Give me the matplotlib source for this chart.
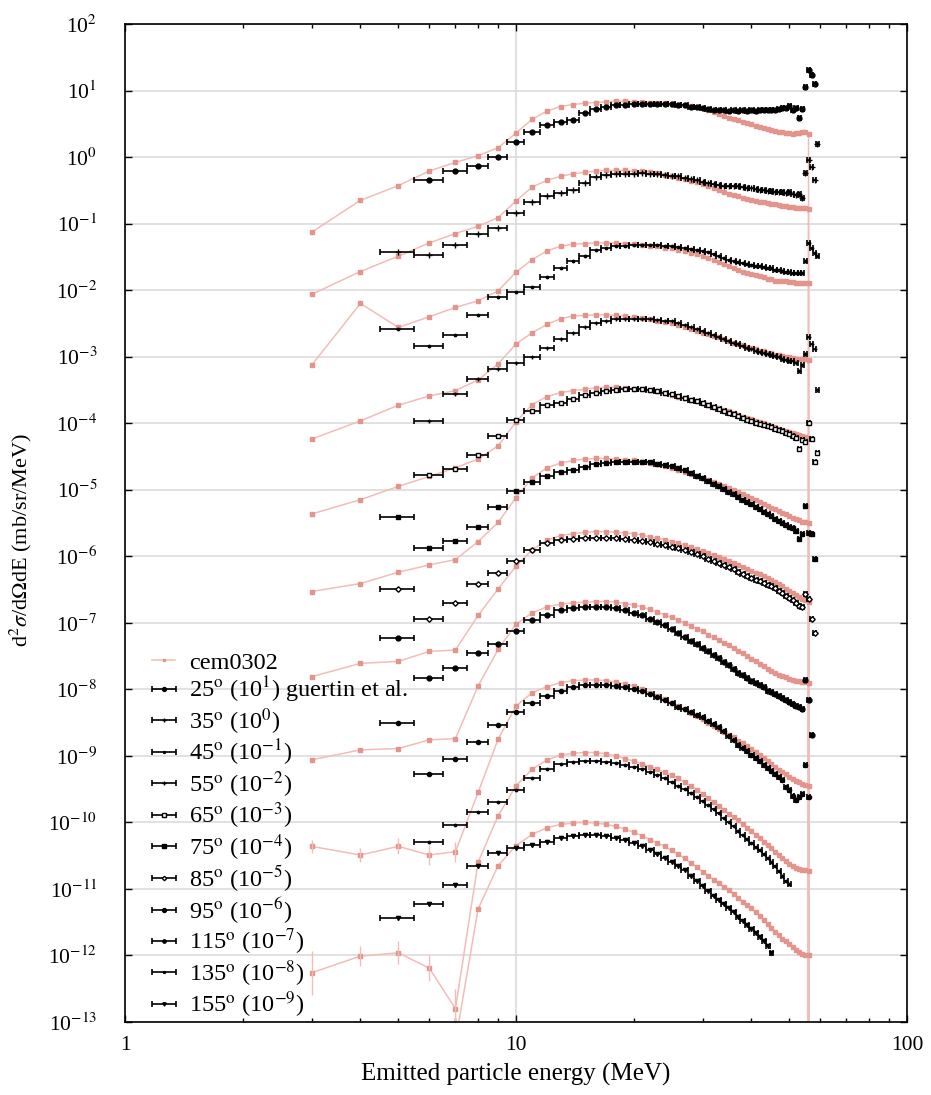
import numpy as np
import matplotlib
matplotlib.use('Agg')
import matplotlib.pyplot as plt
from matplotlib.ticker import LogLocator, NullLocator, NullFormatter

plt.rcParams['font.family'] = 'serif'
plt.rcParams['font.serif'] = ['Liberation Serif', 'DejaVu Serif']
plt.rcParams['mathtext.fontset'] = 'stix'

nan = np.nan

# energy bins (MeV)
e_cem = np.arange(3, 57)      # cem0302 bins 3..56 MeV
e_cem_end = 57                # calculated spectra are zero above this
e_exp = np.arange(5, 60)      # Guertin et al. bins 5..59 MeV
exp_half_bin = 0.5

angles = [25, 35, 45, 55, 65, 75, 85, 95, 115, 135, 155]
scale_pow = [1, 0, -1, -2, -3, -4, -5, -6, -7, -8, -9]

# log10 of the plotted (scaled) d2sigma/dOmega dE
cem_25 = [-1.13, -0.65, -0.43, -0.21, -0.08, 0.02, 0.14, 0.36, 0.57, 0.69,
          0.76, 0.79, 0.81, 0.82, 0.83, 0.84, 0.84, 0.83, 0.83, 0.82,
          0.82, 0.81, 0.80, 0.79, 0.78, 0.77, 0.76, 0.74, 0.71, 0.68,
          0.65, 0.62, 0.59, 0.57, 0.55, 0.53, 0.51, 0.49, 0.47, 0.45,
          0.43, 0.42, 0.40, 0.39, 0.38, 0.37, 0.36, 0.36, 0.35, 0.36,
          0.36, 0.37, 0.37, 0.35]
exp_25 = [nan, -0.34, -0.21, -0.14, 0.00, 0.225, 0.375, 0.475, 0.525, 0.55,
          0.66, 0.72, 0.76, 0.78, 0.79, 0.80, 0.80, 0.80, 0.80, 0.80,
          0.80, 0.79, 0.78, 0.76, 0.75, 0.73, 0.72, 0.71, 0.70, 0.70,
          0.69, 0.70, 0.69, 0.70, 0.69, 0.70, 0.69, 0.70, 0.70, 0.71,
          0.70, 0.71, 0.72, 0.73, 0.74, 0.77, 0.70, 0.74, 0.59, 0.72,
          1.05, 1.31, 1.23, 1.10, nan]

cem_35 = [-2.065, -1.72, -1.49, -1.29, -1.15, -1.04, -0.91, -0.66, -0.45, -0.35,
          -0.29, -0.25, -0.23, -0.21, -0.20, -0.20, -0.20, -0.21, -0.21, -0.22,
          -0.24, -0.27, -0.29, -0.31, -0.33, -0.36, -0.38, -0.41, -0.43, -0.46,
          -0.49, -0.52, -0.55, -0.57, -0.59, -0.61, -0.63, -0.64, -0.66, -0.67,
          -0.68, -0.69, -0.70, -0.71, -0.72, -0.73, -0.74, -0.75, -0.75, -0.76,
          -0.76, -0.76, -0.77, -0.78]
exp_35 = [-1.425, -1.475, -1.315, -1.15, -1.065, -0.84, -0.68, -0.58, -0.54, -0.49,
          -0.39, -0.30, -0.27, -0.26, -0.25, -0.25, -0.24, -0.25, -0.26, -0.27,
          -0.28, -0.29, -0.31, -0.33, -0.35, -0.37, -0.39, -0.41, -0.42, -0.43,
          -0.44, -0.44, -0.44, -0.45, -0.46, -0.47, -0.48, -0.49, -0.50, -0.51,
          -0.51, -0.52, -0.52, -0.53, -0.54, -0.53, -0.55, -0.57, -0.56, -0.62,
          -0.24, -0.04, -0.15, -0.34, 0.19]

cem_45 = [-3.13, -2.20, -2.56, -2.40, -2.26, -2.16, -2.01, -1.73, -1.54, -1.41,
          -1.34, -1.31, -1.30, -1.29, -1.29, -1.29, -1.30, -1.31, -1.32, -1.33,
          -1.34, -1.36, -1.37, -1.39, -1.41, -1.44, -1.46, -1.49, -1.52, -1.55,
          -1.58, -1.61, -1.64, -1.67, -1.70, -1.72, -1.74, -1.76, -1.78, -1.79,
          -1.81, -1.83, -1.84, -1.86, -1.86, -1.87, -1.87, -1.88, -1.88, -1.89,
          -1.89, -1.89, -1.90, -1.90]
exp_45 = [-2.58, -2.84, -2.68, -2.38, -2.10, -2.03, -1.96, -1.80, -1.66, -1.56,
          -1.49, -1.40, -1.36, -1.34, -1.33, -1.32, -1.32, -1.32, -1.32, -1.33,
          -1.34, -1.35, -1.37, -1.38, -1.40, -1.41, -1.43, -1.46, -1.49, -1.52,
          -1.55, -1.56, -1.58, -1.59, -1.61, -1.62, -1.63, -1.64, -1.65, -1.66,
          -1.67, -1.69, -1.70, -1.71, -1.72, -1.73, -1.74, -1.74, -1.75, -1.75,
          -1.56, -1.29, -1.36, -1.44, -1.49]

cem_55 = [-4.24, -3.965, -3.73, -3.59, -3.51, -3.35, -3.11, -2.81, -2.64, -2.515,
          -2.43, -2.39, -2.38, -2.37, -2.37, -2.38, -2.39, -2.41, -2.42, -2.44,
          -2.46, -2.48, -2.50, -2.53, -2.55, -2.58, -2.61, -2.64, -2.66, -2.69,
          -2.71, -2.74, -2.76, -2.79, -2.81, -2.83, -2.85, -2.87, -2.89, -2.91,
          -2.92, -2.94, -2.95, -2.97, -2.98, -2.99, -3.00, -3.01, -3.02, -3.03,
          -3.03, -3.04, -3.04, -3.05]
exp_55 = [nan, -3.965, -3.565, -3.34, -3.18, -3.10, -3.01, -2.865, -2.73, -2.64,
          -2.56, -2.49, -2.46, -2.44, -2.43, -2.43, -2.43, -2.44, -2.45, -2.46,
          -2.47, -2.49, -2.52, -2.55, -2.58, -2.61, -2.64, -2.67, -2.70, -2.73,
          -2.76, -2.79, -2.81, -2.84, -2.87, -2.89, -2.91, -2.93, -2.95, -2.96,
          -2.98, -2.99, -3.01, -3.03, -3.05, -3.06, -3.07, -3.10, -3.21, -3.12,
          -2.96, -2.71, -2.81, -2.89, -3.50]

cem_65 = [-5.365, -5.15, -4.95, -4.80, -4.67, -4.54, -4.34, -3.98, -3.72, -3.60,
          -3.54, -3.51, -3.49, -3.47, -3.46, -3.46, -3.47, -3.48, -3.49, -3.50,
          -3.52, -3.55, -3.57, -3.60, -3.62, -3.65, -3.67, -3.70, -3.72, -3.75,
          -3.77, -3.80, -3.82, -3.85, -3.87, -3.90, -3.92, -3.94, -3.96, -3.98,
          -4.00, -4.02, -4.04, -4.06, -4.08, -4.10, -4.11, -4.13, -4.14, -4.16,
          -4.17, -4.19, -4.20, -4.22]
exp_65 = [nan, -4.78, -4.69, -4.48, -4.19, -3.95, -3.815, -3.73, -3.70, -3.64,
          -3.58, -3.54, -3.51, -3.50, -3.49, -3.49, -3.49, -3.50, -3.52, -3.54,
          -3.565, -3.59, -3.62, -3.65, -3.67, -3.69, -3.72, -3.75, -3.78, -3.81,
          -3.84, -3.865, -3.89, -3.92, -3.95, -3.97, -3.99, -4.01, -4.03, -4.04,
          -4.06, -4.08, -4.10, -4.12, -4.14, -4.16, -4.19, -4.22, -4.39, -4.25,
          -4.28, -3.99, -4.24, -4.59, -4.45]

cem_75 = [-6.53, -6.41, -6.24, -6.13, -6.05, -5.78, -5.49, -5.12, -4.82, -4.67,
          -4.60, -4.56, -4.54, -4.53, -4.53, -4.54, -4.55, -4.56, -4.58, -4.60,
          -4.62, -4.65, -4.67, -4.70, -4.73, -4.76, -4.79, -4.82, -4.85, -4.88,
          -4.91, -4.94, -4.97, -5.00, -5.03, -5.06, -5.09, -5.12, -5.15, -5.18,
          -5.21, -5.24, -5.27, -5.29, -5.32, -5.35, -5.37, -5.39, -5.42, -5.44,
          -5.46, -5.48, -5.49, -5.50]
exp_75 = [-5.415, -5.88, -5.765, -5.565, -5.255, -5.015, -4.88, -4.80, -4.74, -4.70,
          -4.665, -4.62, -4.60, -4.58, -4.58, -4.58, -4.58, -4.59, -4.61, -4.63,
          -4.65, -4.68, -4.71, -4.75, -4.79, -4.83, -4.87, -4.91, -4.95, -4.99,
          -5.03, -5.07, -5.11, -5.15, -5.19, -5.22, -5.26, -5.29, -5.33, -5.37,
          -5.40, -5.44, -5.47, -5.50, -5.53, -5.56, -5.58, -5.62, -5.74, -5.66,
          -5.24, -5.65, -5.67, -6.04, nan]

cem_85 = [-7.81, -7.61, -7.58, -7.43, -7.41, -6.89, -6.49, -6.15, -5.90, -5.76,
          -5.69, -5.66, -5.64, -5.63, -5.63, -5.64, -5.65, -5.66, -5.68, -5.71,
          -5.73, -5.75, -5.78, -5.80, -5.83, -5.86, -5.89, -5.92, -5.95, -5.98,
          -6.01, -6.04, -6.07, -6.10, -6.13, -6.16, -6.19, -6.22, -6.25, -6.27,
          -6.30, -6.33, -6.36, -6.39, -6.42, -6.45, -6.49, -6.52, -6.55, -6.58,
          -6.61, -6.64, -6.66, -6.68]
exp_85 = [-6.486, -6.946, -6.696, -6.421, -6.246, -6.076, -5.91, -5.80, -5.76, -5.74,
          -5.73, -5.72, -5.72, -5.73, -5.74, -5.75, -5.77, -5.79, -5.81, -5.83,
          -5.86, -5.88, -5.91, -5.94, -5.97, -6.00, -6.04, -6.07, -6.10, -6.13,
          -6.16, -6.19, -6.23, -6.26, -6.29, -6.32, -6.35, -6.37, -6.40, -6.43,
          -6.45, -6.48, -6.52, -6.55, -6.60, -6.63, -6.66, -6.70, -6.74, -6.76,
          -6.56, -6.64, -6.94, -7.16, nan]

cem_95 = [-9.06, -8.91, -8.89, -8.76, -8.74, -7.95, -7.40, -7.02, -6.85, -6.76,
          -6.72, -6.70, -6.69, -6.68, -6.68, -6.69, -6.71, -6.73, -6.76, -6.80,
          -6.84, -6.88, -6.92, -6.96, -7.00, -7.05, -7.09, -7.13, -7.18, -7.22,
          -7.26, -7.30, -7.34, -7.38, -7.42, -7.46, -7.50, -7.54, -7.58, -7.62,
          -7.65, -7.69, -7.72, -7.75, -7.78, -7.80, -7.82, -7.84, -7.86, -7.87,
          -7.88, -7.89, -7.89, -7.90]
exp_95 = [-7.226, -7.836, -7.686, -7.461, -7.326, -7.126, -6.96, -6.88, -6.81, -6.78,
          -6.77, -6.76, -6.76, -6.78, -6.81, -6.85, -6.89, -6.94, -6.99, -7.04,
          -7.10, -7.15, -7.21, -7.27, -7.32, -7.38, -7.43, -7.48, -7.53, -7.59,
          -7.64, -7.70, -7.75, -7.79, -7.83, -7.87, -7.90, -7.94, -7.97, -8.02,
          -8.04, -8.07, -8.10, -8.13, -8.16, -8.19, -8.22, -8.25, -8.27, -8.30,
          -7.86, -8.16, -8.69, nan, nan]

cem_115 = [-10.36, -10.49, -10.36, -10.49, -10.44, -9.55, -8.75, -8.25, -8.05, -7.96,
           -7.90, -7.87, -7.86, -7.86, -7.87, -7.89, -7.92, -7.95, -8.00, -8.05,
           -8.10, -8.15, -8.20, -8.25, -8.30, -8.35, -8.40, -8.45, -8.50, -8.55,
           -8.59, -8.64, -8.68, -8.72, -8.77, -8.81, -8.85, -8.89, -8.94, -8.98,
           -9.03, -9.07, -9.12, -9.16, -9.21, -9.25, -9.28, -9.32, -9.35, -9.38,
           -9.40, -9.43, -9.44, -9.45]
exp_115 = [-8.50, -9.276, -9.046, -8.796, -8.536, -8.336, -8.20, -8.10, -8.02, -7.96,
           -7.94, -7.93, -7.93, -7.95, -7.97, -8.00, -8.03, -8.07, -8.11, -8.16,
           -8.21, -8.26, -8.30, -8.34, -8.38, -8.42, -8.47, -8.52, -8.57, -8.63,
           -8.70, -8.76, -8.83, -8.88, -8.93, -8.98, -9.03, -9.08, -9.13, -9.18,
           -9.22, -9.27, -9.32, -9.37, -9.47, -9.52, -9.60, -9.66, -9.62, -9.58,
           -9.14, -9.62, nan, nan, nan]

cem_135 = [-12.26, -12.01, -11.96, -12.19, -12.80, -10.60, -9.90, -9.45, -9.20, -9.06,
           -8.99, -8.96, -8.95, -8.95, -8.97, -9.00, -9.04, -9.08, -9.12, -9.16,
           -9.20, -9.25, -9.29, -9.34, -9.40, -9.45, -9.51, -9.57, -9.63, -9.70,
           -9.76, -9.82, -9.87, -9.92, -9.97, -10.03, -10.08, -10.13, -10.19, -10.24,
           -10.29, -10.34, -10.39, -10.44, -10.49, -10.54, -10.58, -10.63, -10.66, -10.69,
           -10.70, -10.71, -10.72, -10.73]
exp_135 = [nan, -10.296, -10.036, -9.846, -9.686, -9.51, -9.34, -9.19, -9.12, -9.09,
           -9.08, -9.08, -9.09, -9.11, -9.14, -9.17, -9.20, -9.24, -9.29, -9.34,
           -9.39, -9.45, -9.50, -9.56, -9.62, -9.68, -9.74, -9.80, -9.86, -9.93,
           -9.99, -10.06, -10.13, -10.19, -10.25, -10.31, -10.37, -10.42, -10.48, -10.53,
           -10.59, -10.66, -10.73, -10.81, -10.88, -10.93, nan, nan, nan, nan,
           nan, nan, nan, nan, nan]

cem_155 = [nan, nan, nan, nan, -13.3, -11.30, -10.65, -10.35, -10.18, -10.08,
           -10.03, -10.01, -10.00, -10.01, -10.03, -10.06, -10.10, -10.15, -10.20, -10.26,
           -10.31, -10.36, -10.42, -10.48, -10.54, -10.61, -10.67, -10.74, -10.80, -10.86,
           -10.91, -10.97, -11.02, -11.08, -11.13, -11.19, -11.24, -11.29, -11.35, -11.40,
           -11.46, -11.52, -11.58, -11.64, -11.69, -11.75, -11.79, -11.83, -11.88, -11.92,
           -11.95, -11.98, -11.99, -12.00]
exp_155 = [-11.436, -11.226, -10.936, -10.661, -10.461, -10.386, -10.336, -10.30, -10.24, -10.20,
           -10.19, -10.19, -10.20, -10.23, -10.27, -10.31, -10.36, -10.41, -10.47, -10.54,
           -10.60, -10.66, -10.72, -10.80, -10.88, -10.96, -11.03, -11.10, -11.16, -11.23,
           -11.29, -11.35, -11.42, -11.48, -11.54, -11.60, -11.66, -11.72, -11.78, -11.86,
           -11.96, nan, nan, nan, nan, nan, nan, nan, nan, nan,
           nan, nan, nan, nan, nan]

# statistical uncertainty (in decades) of the calculation at 3..7 MeV
cem_115_err = [0.10, 0.10, 0.12, 0.15, 0.15]
cem_135_err = [0.33, 0.15, 0.17, 0.20, 0.30]

cem_all = [cem_25, cem_35, cem_45, cem_55, cem_65, cem_75, cem_85, cem_95,
           cem_115, cem_135, cem_155]
exp_all = [exp_25, exp_35, exp_45, exp_55, exp_65, exp_75, exp_85, exp_95,
           exp_115, exp_135, exp_155]

exp_markers = ['o', '+', '.', '+', 's', 's', 'D', 'o', 'o', '.', 'v']
exp_faces = ['k', 'k', 'k', 'k', 'white', 'k', 'white', 'k', 'k', 'k', 'k']
exp_sizes = [3.5, 4, 3.5, 3.5, 3, 3.5, 2.8, 3.5, 3, 3.5, 3]

y_decades = np.arange(-13, 3)

cem_line = '#f1bdb8'
cem_mark = '#e2948d'

fig = plt.figure(figsize=(9.31, 10.95), dpi=100)
ax = fig.add_axes([125 / 931, 1 - 1022 / 1095, 782 / 931, 998 / 1095])
ax.set_xscale('log')
ax.set_yscale('log', nonpositive='clip')

for i, (cem, exp) in enumerate(zip(cem_all, exp_all)):
    y_cem = np.append(10.0 ** np.array(cem), 0.0)
    x_cem = np.append(e_cem, e_cem_end)
    ax.plot(x_cem, y_cem, color=cem_line, lw=1.1, marker='s', ms=2.3,
            mfc=cem_mark, mec=cem_mark, zorder=2,
            label='cem0302' if i == 0 else '_nolegend_')

    lbl = '%d$^{\\rm o}$ (10$^{%d}$)' % (angles[i], scale_pow[i])
    if i == 0:
        lbl += ' guertin et al.'
    ax.errorbar(e_exp, 10.0 ** np.array(exp), xerr=exp_half_bin,
                fmt=exp_markers[i], ms=exp_sizes[i], color='k', mfc=exp_faces[i],
                mec='k', ecolor='k', elinewidth=1.2, capsize=2.5, capthick=1.2,
                zorder=3, label=lbl)

for cem, err in [(cem_115, cem_115_err), (cem_135, cem_135_err)]:
    v = 10.0 ** np.array(cem[:5])
    d = 10.0 ** np.array(err)
    ax.errorbar(e_cem[:5], v, yerr=[v - v / d, v * d - v], fmt='none',
                ecolor=cem_line, elinewidth=1.0, zorder=2)

ax.set_xlim(1, 100)
ax.set_ylim(1e-13, 1e2)
ax.set_xticks([1, 10, 100])
ax.set_xticklabels(['1', '10', '100'])
ax.xaxis.set_minor_locator(LogLocator(base=10, subs=np.arange(2, 10), numticks=20))
ax.xaxis.set_minor_formatter(NullFormatter())
ax.set_yticks(10.0 ** y_decades)
ax.set_yticklabels(['10$^{%d}$' % k for k in y_decades])
ax.yaxis.set_minor_locator(NullLocator())

ax.tick_params(which='both', direction='in', top=True, right=True, labelsize=15.5)
ax.tick_params(which='major', length=5, width=1)
ax.tick_params(which='minor', length=3, width=1)
ax.tick_params(axis='x', pad=10)
ax.tick_params(axis='y', pad=20)
ax.grid(True, which='major', color='#d8d8d8', lw=1.1)
ax.set_axisbelow(True)
for s in ax.spines.values():
    s.set_linewidth(1.2)

ax.set_xlabel('Emitted particle energy (MeV)', fontsize=18, labelpad=6)
ax.set_ylabel('d$^2\\sigma$/d$\\Omega$dE (mb/sr/MeV)', fontsize=16)
ax.yaxis.set_label_coords(-0.116, 0.483)

leg = ax.legend(loc='upper left', bbox_to_anchor=(0.035, 0.371), frameon=False,
                fontsize=17.5, borderpad=0, borderaxespad=0, handlelength=0.95,
                handletextpad=0.55, labelspacing=0.04, markerscale=0.8)

fig.savefig('out.png', dpi=100)
